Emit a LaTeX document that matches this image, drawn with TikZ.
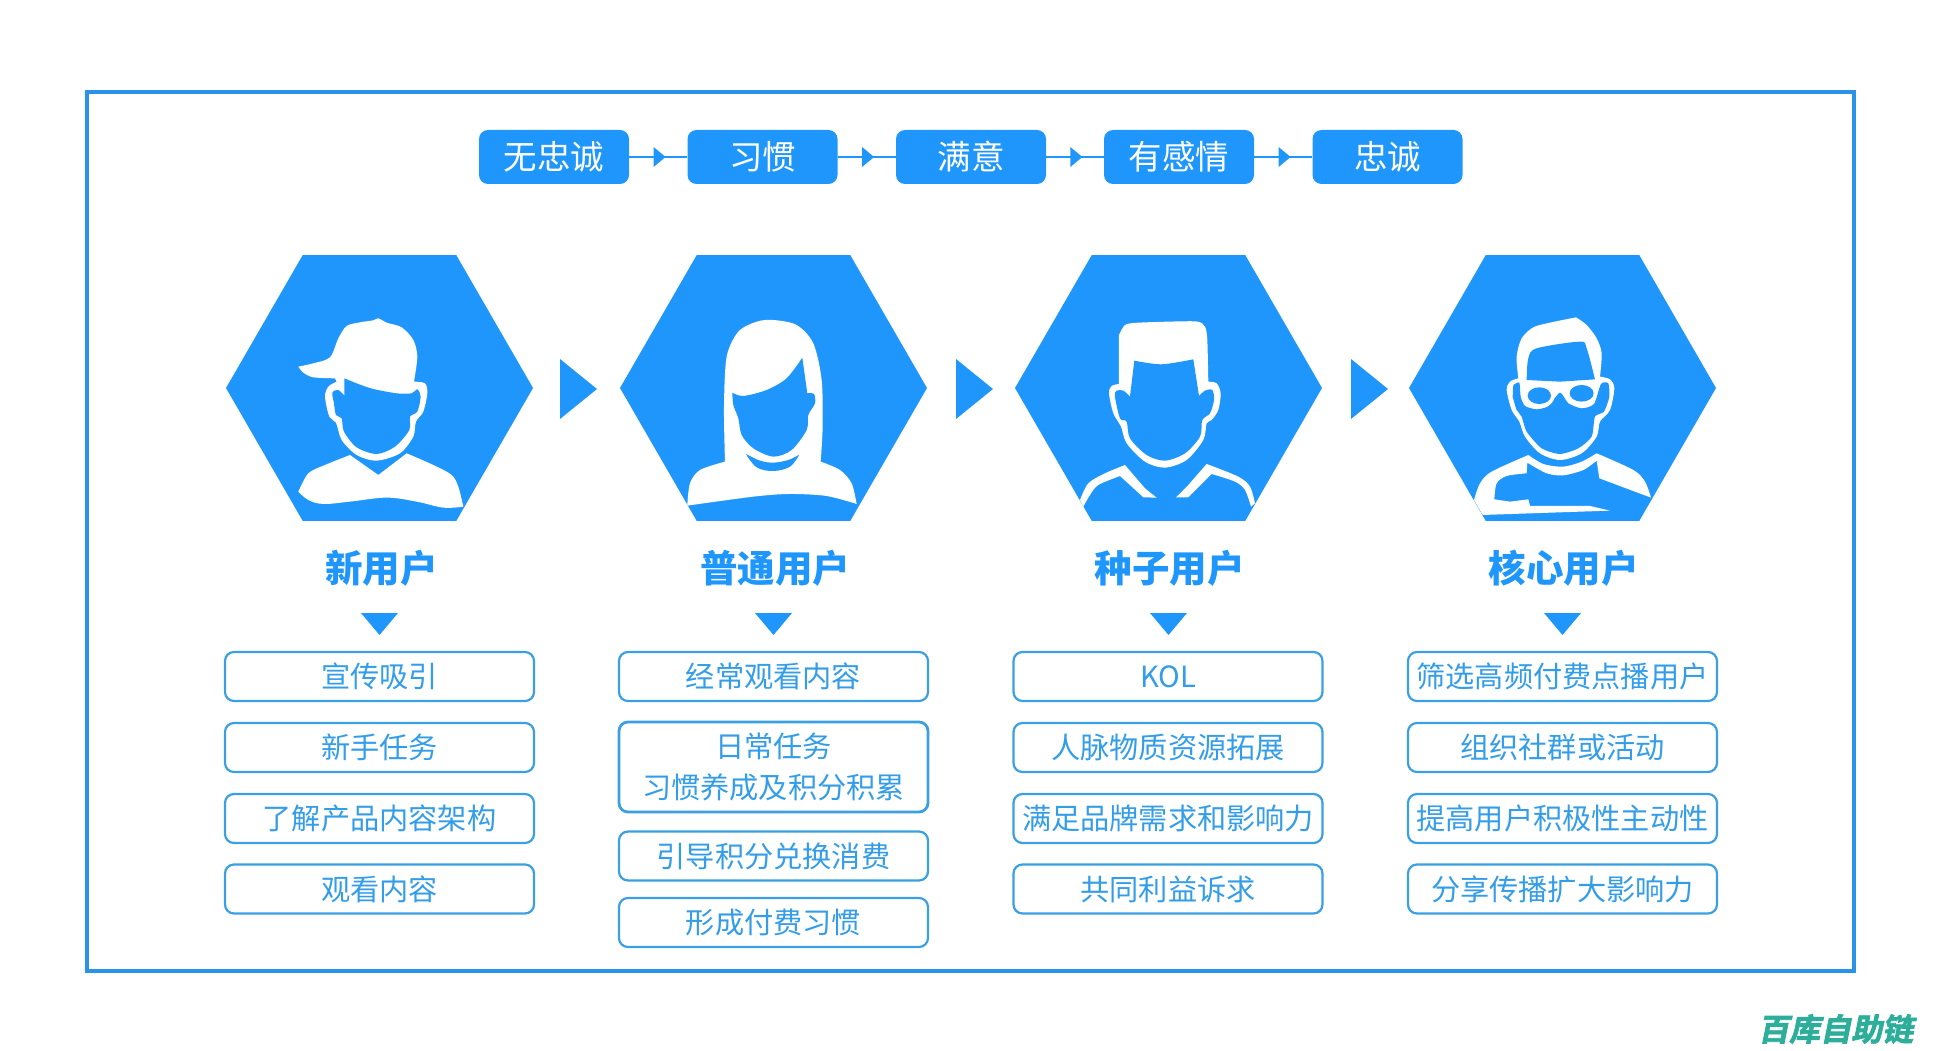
\documentclass[tikz,border=0pt]{standalone}
\usepackage{fontspec}
\setmainfont{Noto Sans CJK SC}
\newfontfamily\markfont[FakeSlant=0.2,FakeBold=2.5]{Noto Sans CJK SC Bold}
\usepackage{tikz}
\usetikzlibrary{shapes.geometric}
\definecolor{hexblue}{HTML}{1E96FB}
\definecolor{frameblue}{HTML}{2A93E8}
\definecolor{boxblue}{HTML}{3A9FE3}
\definecolor{marktea}{HTML}{2DAE9B}

\begin{document}
\begin{tikzpicture}[x=1pt, y=-1pt,
  pillnode/.style={rectangle, rounded corners=9pt, fill=hexblue, text=white, minimum width=150pt, minimum height=54pt, inner sep=0pt, font=\fontsize{33.5}{38}\selectfont},
  hexnode/.style={regular polygon, regular polygon sides=6, fill=hexblue, minimum size=307pt, inner sep=0pt, outer sep=0pt},
  usernode/.style={text=hexblue, inner sep=0pt, font=\fontsize{37.5}{42}\selectfont\bfseries},
  itemnode/.style={rectangle, rounded corners=9pt, draw=boxblue, line width=2.2pt, text=boxblue!75!hexblue, minimum width=309pt, minimum height=49pt, inner sep=0pt, align=center, font=\fontsize{29.2}{41}\selectfont},
  tipnode/.style={isosceles triangle, isosceles triangle stretches, fill=hexblue, inner sep=0pt, outer sep=0pt, minimum height=12pt, minimum width=20pt},
  bigtipnode/.style={isosceles triangle, isosceles triangle stretches, fill=hexblue, inner sep=0pt, outer sep=0pt, minimum height=37pt, minimum width=60pt, anchor=apex},
  downtipnode/.style={isosceles triangle, isosceles triangle stretches, shape border rotate=270, fill=hexblue, inner sep=0pt, outer sep=0pt, minimum height=22pt, minimum width=37pt, anchor=apex},
  figure/.style={x=0.3333pt, y=-0.3333pt, fill=white},
  link/.style={draw=hexblue, line width=2.5pt}]
\useasboundingbox (0,0) rectangle (1939,1051);
\draw[frameblue, line width=4.5pt] (87,92) rectangle (1854,971);

\node[pillnode] at (554.0,157.0) (pill0) {无忠诚};
\node[pillnode] at (762.5,157.0) (pill1) {习惯};
\node[pillnode] at (971.0,157.0) (pill2) {满意};
\node[pillnode] at (1179.0,157.0) (pill3) {有感情};
\node[pillnode] at (1387.5,157.0) (pill4) {忠诚};
\draw[link] (pill0) -- (pill1) node[midway, tipnode] (tip0) {};
\draw[link] (pill1) -- (pill2) node[midway, tipnode] (tip1) {};
\draw[link] (pill2) -- (pill3) node[midway, tipnode] (tip2) {};
\draw[link] (pill3) -- (pill4) node[midway, tipnode] (tip3) {};

\node[hexnode] at (379.5,388.0) (hex0) {};
\node[hexnode] at (773.5,388.0) (hex1) {};
\node[hexnode] at (1168.5,388.0) (hex2) {};
\node[hexnode] at (1562.5,388.0) (hex3) {};
\node[bigtipnode] at (597.0,389.0) (big0) {};
\node[bigtipnode] at (993.0,389.0) (big1) {};
\node[bigtipnode] at (1388.0,389.0) (big2) {};

% new user
\begin{scope}[shift={(210,240)}, figure]
\fill[white] plot[smooth, tension=.5] coordinates {(265,380)(310,370)(360,352)(385,295)(410,258)(450,247)(490,241)(505,235)(530,248)(575,262)(610,300)(622,350)(612,425)} -- plot[smooth, tension=.5] coordinates {(612,425)(645,430)(652,460)(640,515)(618,545)(610,590)(570,640)(500,662)(440,645)(395,600)(378,548)(358,530)(345,470)(355,440)(380,425)} -- (375,415) -- plot[smooth, tension=.5] coordinates {(375,415)(310,412)(280,398)(265,380)} -- cycle;
\fill[hexblue] plot[smooth, tension=.5] coordinates {(403,467)(385,450)(367,458)(372,490)(378,525)(395,535)(402,575)(440,622)(500,642)(555,620)(598,570)(600,530)(622,515)(632,470)(622,448)(605,460)(560,460)(490,447)(445,432)(403,415)} -- cycle;
\fill[white] plot[smooth, tension=.5] coordinates {(265,755)(295,700)(345,675)(420,645)} -- (505,705) -- plot[smooth, tension=.5] coordinates {(590,640)(670,675)(725,705)(745,740)(760,800)} -- plot[smooth, tension=.6] coordinates {(760,800)(700,803)(620,785)(530,773)(420,785)(340,792)(295,780)(265,755)} -- cycle;
\end{scope}
% normal user
\begin{scope}[shift={(610,240)}, figure]
\fill[white] plot[smooth, tension=.5] coordinates {(232,795)(240,730)(270,690)(345,665)} -- plot[smooth, tension=.5] coordinates {(345,665)(342,500)(350,350)(385,275)(440,245)(490,240)(560,255)(610,310)(635,420)(638,560)(632,665)} -- plot[smooth, tension=.5] coordinates {(632,665)(690,690)(725,730)(740,792)} -- plot[smooth, tension=.5] coordinates {(740,792)(650,768)(540,762)(430,770)(232,797)} -- cycle;
\fill[hexblue] plot[smooth, tension=.5] coordinates {(367,458)(400,468)(470,450)(530,415)(577,353)} -- (592,460) -- plot[smooth, tension=.5] coordinates {(592,460)(612,462)(615,490)(595,525)(590,570)(545,630)(490,650)(430,625)(395,585)(385,535)(370,495)(367,458)} -- cycle;
\fill[hexblue] plot[smooth, tension=.6] coordinates {(408,642)(450,662)(490,668)(535,660)(568,644)} -- plot[smooth, tension=.6] coordinates {(568,644)(540,680)(490,693)(440,682)(408,642)} -- cycle;
\end{scope}
% seed user
\begin{scope}[shift={(1005,240)}, figure]
\fill[white] plot[smooth, tension=.4] coordinates {(342,285)(360,255)(400,248)(570,244)(600,260)(607,300)(610,425)} -- plot[smooth, tension=.5] coordinates {(610,425)(635,430)(647,460)(640,510)(620,540)(605,550)(595,600)(545,660)(480,683)(420,665)(365,610)(348,560)(325,520)(312,460)(320,438)(342,432)} -- cycle;
\fill[hexblue] plot[smooth, tension=.5] coordinates {(388,362)(470,373)(565,358)} -- (582,468) -- plot[smooth, tension=.5] coordinates {(582,468)(600,452)(622,450)(627,480)(615,520)(592,540)(585,590)(540,640)(480,662)(425,645)(375,595)(365,545)(345,535)(330,470)(335,452)(355,452)(375,470)} -- cycle;
\fill[white] plot[smooth, tension=.5] coordinates {(225,780)(250,730)(300,700)(360,675)} -- (420,745) -- (455,773) -- (415,772) -- (345,708) -- plot[smooth, tension=.5] coordinates {(345,708)(280,735)(255,765)(235,800)} -- cycle;
\fill[white] (513,772) -- (550,735) -- (605,672) -- plot[smooth, tension=.5] coordinates {(605,672)(700,710)(735,740)(750,790)} -- (738,800) -- plot[smooth, tension=.5] coordinates {(738,800)(720,750)(690,725)(620,702)} -- (550,772) -- cycle;
\end{scope}
% core user
\begin{scope}[shift={(1400,240)}, figure]
\fill[white] plot[smooth, tension=.5] coordinates {(355,415)(350,350)(365,295)(400,262)(450,248)(528,232)} -- plot[smooth, tension=.5] coordinates {(528,232)(560,255)(590,295)(605,340)(600,410)} -- plot[smooth, tension=.5] coordinates {(600,410)(630,418)(643,445)(630,510)(600,545)(590,590)(545,640)(480,660)(420,640)(375,590)(358,545)(335,510)(320,450)(330,425)(355,415)} -- cycle;
\fill[hexblue] plot[smooth, tension=.5] coordinates {(380,420)(385,355)(410,325)(540,305)(560,325)(585,418)} -- (480,425) -- cycle;
\fill[hexblue] plot[smooth, tension=.4] coordinates {(340,435)(358,428)(362,470)(375,498)(410,508)(445,498)(480,458)(505,490)(545,505)(582,492)(603,432)(625,430)(628,470)(612,515)(585,530)(575,590)(535,625)(480,642)(425,625)(380,575)(365,530)(350,510)(338,470)} -- cycle;
\fill[white] (418,467) ellipse [x radius=46, y radius=38];
\fill[white] (545,462) ellipse [x radius=46, y radius=38];
\fill[hexblue] (418,467) ellipse [x radius=35, y radius=25];
\fill[hexblue] (545,460) ellipse [x radius=36, y radius=25];
\fill[white] plot[smooth, tension=.5] coordinates {(222,780)(240,730)(275,695)(385,645)} -- plot[smooth, tension=.5] coordinates {(385,645)(430,672)(490,680)(545,665)(590,640)} -- plot[smooth, tension=.5] coordinates {(590,640)(700,690)(735,725)(753,773)} -- (598,715) -- (590,662) -- plot[smooth, tension=.5] coordinates {(590,662)(550,690)(490,706)(440,700)(382,668)} -- (380,700) -- plot[smooth, tension=.5] coordinates {(380,700)(320,708)(290,730)(283,778)} -- (330,785) -- (385,778) -- (390,798) -- (570,798) -- (630,812) -- (248,825) -- cycle;
\end{scope}

\node[usernode] at (381.5,568.0) (user0) {新用户};
\node[usernode] at (775.0,568.0) (user1) {普通用户};
\node[usernode] at (1169.5,568.0) (user2) {种子用户};
\node[usernode] at (1563.5,568.0) (user3) {核心用户};
\node[downtipnode] at (379.5,635.0) (down0) {};
\node[downtipnode] at (773.5,635.0) (down1) {};
\node[downtipnode] at (1168.5,635.0) (down2) {};
\node[downtipnode] at (1562.5,635.0) (down3) {};

\node[itemnode] at (379.5,676.5) (item00) {宣传吸引};
\node[itemnode] at (379.5,747.5) (item01) {新手任务};
\node[itemnode] at (379.5,818.5) (item02) {了解产品内容架构};
\node[itemnode] at (379.5,889.0) (item03) {观看内容};

\node[itemnode] at (773.5,676.5) (item10) {经常观看内容};
\node[itemnode, minimum height=90pt, line width=2.8pt] at (773.5,767.0) (item11) {日常任务\\习惯养成及积分积累};
\node[itemnode] at (773.5,856.0) (item12) {引导积分兑换消费};
\node[itemnode] at (773.5,922.5) (item13) {形成付费习惯};

\node[itemnode] at (1168.0,676.5) (item20) {KOL};
\node[itemnode] at (1168.0,747.5) (item21) {人脉物质资源拓展};
\node[itemnode] at (1168.0,818.5) (item22) {满足品牌需求和影响力};
\node[itemnode] at (1168.0,889.0) (item23) {共同利益诉求};

\node[itemnode] at (1562.5,676.5) (item30) {筛选高频付费点播用户};
\node[itemnode] at (1562.5,747.5) (item31) {组织社群或活动};
\node[itemnode] at (1562.5,818.5) (item32) {提高用户积极性主动性};
\node[itemnode] at (1562.5,889.0) (item33) {分享传播扩大影响力};

\node[text=marktea, inner sep=0pt, anchor=west, font=\fontsize{31}{34}\markfont] at (1758,1029) (mark) {百库自助链};
\end{tikzpicture}
\end{document}
